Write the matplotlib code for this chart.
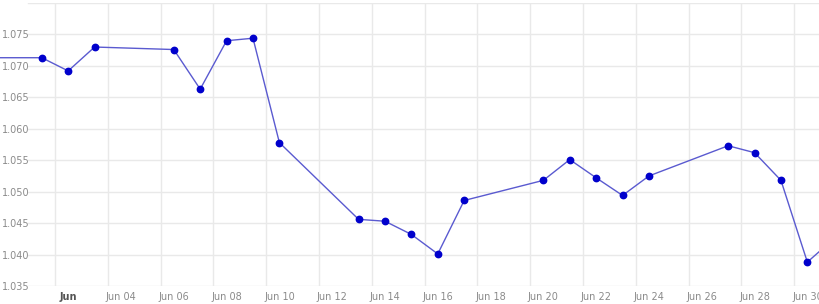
import matplotlib
matplotlib.use("Agg")
from matplotlib import pyplot as plt
import matplotlib.dates as mdates
import pandas as pd

# daily closes (first and last are partly off-canvas)
dates = ["2022-05-30", "2022-06-01", "2022-06-02", "2022-06-03", "2022-06-06",
         "2022-06-07", "2022-06-08", "2022-06-09", "2022-06-10", "2022-06-13",
         "2022-06-14", "2022-06-15", "2022-06-16", "2022-06-17", "2022-06-20",
         "2022-06-21", "2022-06-22", "2022-06-23", "2022-06-24", "2022-06-27",
         "2022-06-28", "2022-06-29", "2022-06-30", "2022-07-01"]
rates = [1.0713, 1.0713, 1.0692, 1.0730, 1.0726,
         1.0663, 1.0740, 1.0744, 1.0578, 1.0456,
         1.0453, 1.0432, 1.0401, 1.0486, 1.0518,
         1.0551, 1.0522, 1.0494, 1.0525, 1.0573,
         1.0562, 1.0518, 1.0388, 1.0425]
y_ticks = [1.035, 1.040, 1.045, 1.050, 1.055, 1.060, 1.065, 1.070, 1.075]
y_grid = y_ticks + [1.080]
tick_days = list(range(2, 31, 2))

x = pd.to_datetime(dates)
fig = plt.figure(figsize=(8.2, 3.04), dpi=100)
ax = fig.add_axes([0, 18 / 304, 1, 283 / 304])

ax.plot(x, rates, color="#5a5ad0", lw=1, zorder=3)
ax.plot(x, rates, "o", color="#0000cc", ms=4.6, mec="#0000cc", zorder=4)

ax.set_xlim(pd.Timestamp("2022-05-31") - pd.Timedelta(hours=14),
            pd.Timestamp("2022-06-30") + pd.Timedelta(hours=11.5))
ax.set_ylim(1.035, 1.080)

# horizontal gridlines start right of the tick labels
for v in y_grid:
    ax.axhline(v, xmin=28 / 820, color="#e9e9e9", lw=1, zorder=1)
# vertical gridlines sit half a day before each labelled date
for d in tick_days:
    ax.axvline(pd.Timestamp(2022, 6, d) - pd.Timedelta(hours=12),
               color="#e9e9e9", lw=1, zorder=1)

ax.set_yticks(y_ticks)
ax.set_yticklabels([f"{v:.3f}" for v in y_ticks])
ax.tick_params(axis="y", length=0, pad=-1.5, labelsize=7, labelcolor="#8a8a8a")
for lab in ax.get_yticklabels():
    lab.set_horizontalalignment("left")

ticks = [pd.Timestamp(2022, 6, d) for d in tick_days]
ax.set_xticks(ticks)
ax.set_xticklabels(["Jun"] + [f"Jun {d:02d}" for d in tick_days[1:]])
ax.tick_params(axis="x", length=0, pad=4.5, labelsize=7, labelcolor="#8a8a8a")
first = ax.get_xticklabels()[0]
first.set_fontweight("bold")
first.set_color("#555555")

for s in ax.spines.values():
    s.set_visible(False)
ax.grid(False)

fig.savefig("out.png", dpi=100)
